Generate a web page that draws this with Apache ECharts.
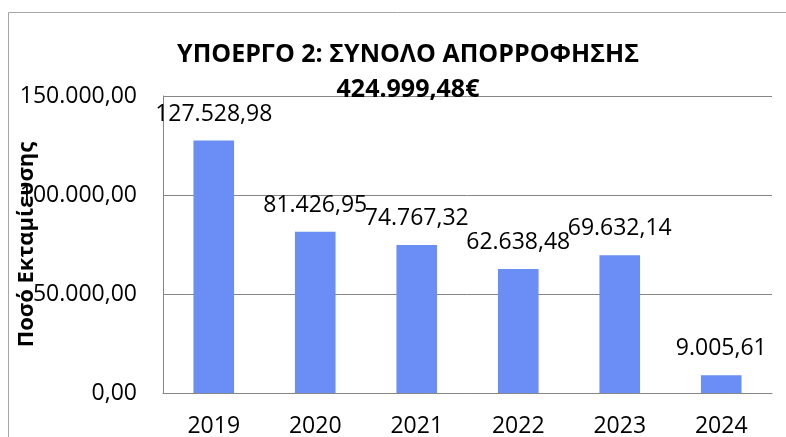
<!DOCTYPE html>
<html>
<head>
<meta charset="utf-8">
<script src="https://cdn.jsdelivr.net/npm/echarts@6/dist/echarts.min.js"></script>
<style>
html,body{margin:0;padding:0;background:#fff;}
#chart{width:786px;height:437px;}
</style>
</head>
<body>
<div id="chart"></div>
<script>
// δεδομένα
var years = ['2019', '2020', '2021', '2022', '2023', '2024'];
var amounts = [127528.98, 81426.95, 74767.32, 62638.48, 69632.14, 9005.61];
var yTicks = [0, 50000, 100000, 150000];

// μορφή αριθμού 127.528,98
function grNumber(v) {
    var parts = Number(v).toFixed(2).split('.');
    var intPart = parts[0].replace(/\B(?=(\d{3})+(?!\d))/g, '.');
    return intPart + ',' + parts[1];
}

var myChart = echarts.init(document.getElementById('chart'));
var fontName = 'Open Sans';
var option = {
    backgroundColor: '#fff',
    animation: false,
    textStyle: {fontFamily: fontName},
    title: {
        text: 'ΥΠΟΕΡΓΟ 2: ΣΥΝΟΛΟ ΑΠΟΡΡΟΦΗΣΗΣ\n424.999,48€',
        left: 403,
        top: 32,
        textAlign: 'center',
        textStyle: {
            fontFamily: fontName,
            fontSize: 25,
            fontWeight: 'bold',
            color: '#000',
            lineHeight: 35
        }
    },
    graphic: [
        {
            type: 'rect',
            shape: {x: 8.5, y: 12.5, width: 800, height: 450},
            style: {fill: 'none', stroke: '#a6a6a6', lineWidth: 1},
            silent: true
        }
    ],
    grid: {left: 163, right: 14, top: 96, bottom: 44, containLabel: false, outerBoundsMode: 'none'},
    xAxis: {
        type: 'category',
        data: years,
        axisLine: {lineStyle: {color: '#868686', width: 1}},
        axisTick: {show: false},
        axisLabel: {color: '#000', fontSize: 23, margin: 22, fontFamily: fontName}
    },
    yAxis: {
        type: 'value',
        min: yTicks[0],
        max: yTicks[yTicks.length - 1],
        interval: yTicks[1] - yTicks[0],
        name: 'Ποσό Εκταμίευσης',
        nameLocation: 'middle',
        nameGap: 125,
        nameMoveOverlap: false,
        nameTextStyle: {color: '#000', fontSize: 22, fontWeight: 'bold', fontFamily: fontName},
        axisLine: {show: true, lineStyle: {color: '#868686', width: 1}},
        axisTick: {show: false},
        splitLine: {lineStyle: {color: '#868686', width: 1}},
        axisLabel: {
            color: '#000',
            fontSize: 23,
            margin: 26,
            fontFamily: fontName,
            formatter: function (v) { return grNumber(v); }
        }
    },
    series: [
        {
            type: 'bar',
            data: amounts,
            barWidth: '40%',
            itemStyle: {color: '#6a8df6'},
            label: {
                show: true,
                position: 'top',
                distance: 15,
                color: '#000',
                fontSize: 23,
                fontFamily: fontName,
                formatter: function (p) { return grNumber(p.value); }
            }
        }
    ]
};
myChart.setOption(option);
</script>
</body>
</html>
